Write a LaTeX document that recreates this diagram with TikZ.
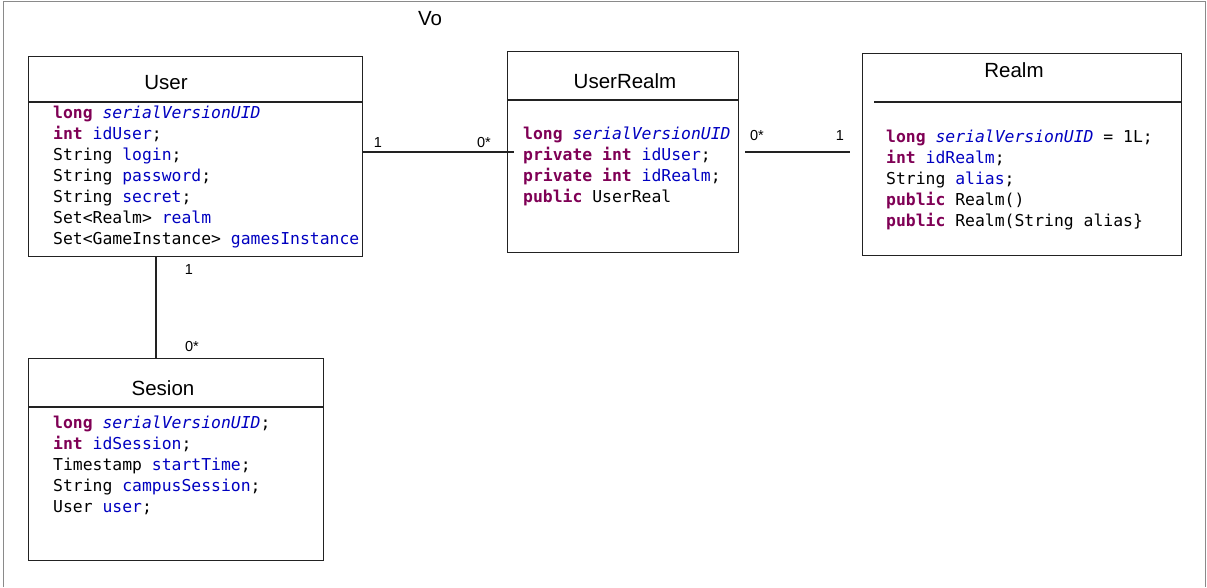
\documentclass[tikz,border=0pt]{standalone}
\usepackage{fontspec}
\setmainfont{Liberation Sans}
\newfontfamily\codefont{DejaVu Sans Mono}
\definecolor{kwcol}{HTML}{7F0055}
\definecolor{fieldcol}{HTML}{0000C0}
\definecolor{framecol}{HTML}{8A8A8A}
\definecolor{boxcol}{HTML}{222222}
\newcommand{\kw}[1]{\textcolor{kwcol}{\bfseries #1}}
\newcommand{\fd}[1]{\textcolor{fieldcol}{#1}}
\newcommand{\sfd}[1]{\textcolor{fieldcol}{\itshape #1}}
\begin{document}
\begin{tikzpicture}[x=1pt,y=-1pt,
  classbox/.style={draw=boxcol, line width=1.3pt, anchor=north west, inner sep=0pt},
  divider/.style={draw=boxcol, line width=1.3pt},
  title/.style={font=\fontsize{20.5}{24}\selectfont, anchor=base, inner sep=0pt},
  code/.style={font=\codefont\fontsize{16.4}{21}\selectfont, anchor=base west, inner sep=0pt},
  mult/.style={font=\fontsize{14.5}{16}\selectfont, inner sep=0pt},
  link/.style={draw=boxcol, line width=1.1pt}]
\useasboundingbox (0,0) rectangle (1207,587);
% outer frame (open at the bottom)
\draw[framecol, line width=1pt] (3.5,587) -- (3.5,1) -- (1205.5,1) -- (1205.5,587);
\node[title] (pkg) at (430,25) {Vo};

% ---- User ----
\node[classbox, minimum width=334pt, minimum height=200pt] (user) at (28,56) {};
\draw[divider] (28,102) -- (362,102);
\node[title] (usert) at (166,89) {User};
\node[code] (u1) at (53,118) {\kw{long} \sfd{serialVersionUID}};
\node[code] (u2) at (53,139) {\kw{int} \fd{idUser};};
\node[code] (u3) at (53,160) {String \fd{login};};
\node[code] (u4) at (53,181) {String \fd{password};};
\node[code] (u5) at (53,202) {String \fd{secret};};
\node[code] (u6) at (53,223) {Set<Realm> \fd{realm}};
\node[code] (u7) at (53,244) {Set<GameInstance> \fd{gamesInstance}};

% ---- UserRealm ----
\node[classbox, minimum width=231pt, minimum height=201pt] (userrealm) at (507,51) {};
\draw[divider] (507,100) -- (738,100);
\node[title] (userrealmt) at (625,88) {UserRealm};
\node[code] (r1) at (523,139) {\kw{long} \sfd{serialVersionUID}};
\node[code] (r2) at (523,160) {\kw{private} \kw{int} \fd{idUser};};
\node[code] (r3) at (523,181) {\kw{private} \kw{int} \fd{idRealm};};
\node[code] (r4) at (523,202) {\kw{public} UserReal};

% ---- Realm ----
\node[classbox, minimum width=319pt, minimum height=202pt] (realm) at (862,53) {};
\draw[divider] (874,102) -- (1181,102);
\node[title] (realmt) at (1014,77) {Realm};
\node[code] (m1) at (886,142) {\kw{long} \sfd{serialVersionUID} = 1L;};
\node[code] (m2) at (886,163) {\kw{int} \fd{idRealm};};
\node[code] (m3) at (886,184) {String \fd{alias};};
\node[code] (m4) at (886,205) {\kw{public} Realm()};
\node[code] (m5) at (886,226) {\kw{public} Realm(String alias\}};

% ---- Sesion ----
\node[classbox, minimum width=295pt, minimum height=202pt] (sesion) at (28,358) {};
\draw[divider] (28,407) -- (323,407);
\node[title] (siont) at (163,395) {Sesion};
\node[code] (s1) at (53,428) {\kw{long} \sfd{serialVersionUID};};
\node[code] (s2) at (53,449) {\kw{int} \fd{idSession};};
\node[code] (s3) at (53,470) {Timestamp \fd{startTime};};
\node[code] (s4) at (53,491) {String \fd{campusSession};};
\node[code] (s5) at (53,512) {User \fd{user};};

% ---- associations ----
\coordinate (ua) at (514,152);
\draw[link] (user.east |- ua) -- (ua);
\node[mult] (ua1) at (378,143) {1};
\node[mult] (ua2) at (484,143) {0*};

\coordinate (rb) at (745,152);
\coordinate (rc) at (850,152);
\draw[link] (rb) -- (rc);
\node[mult] (rb1) at (757,136) {0*};
\node[mult] (rb2) at (840,136) {1};

\coordinate (sx) at (156,0);
\draw[link] (user.south -| sx) -- (sesion.north -| sx);
\node[mult] (su1) at (189,270) {1};
\node[mult] (su2) at (192,347) {0*};
\end{tikzpicture}
\end{document}
